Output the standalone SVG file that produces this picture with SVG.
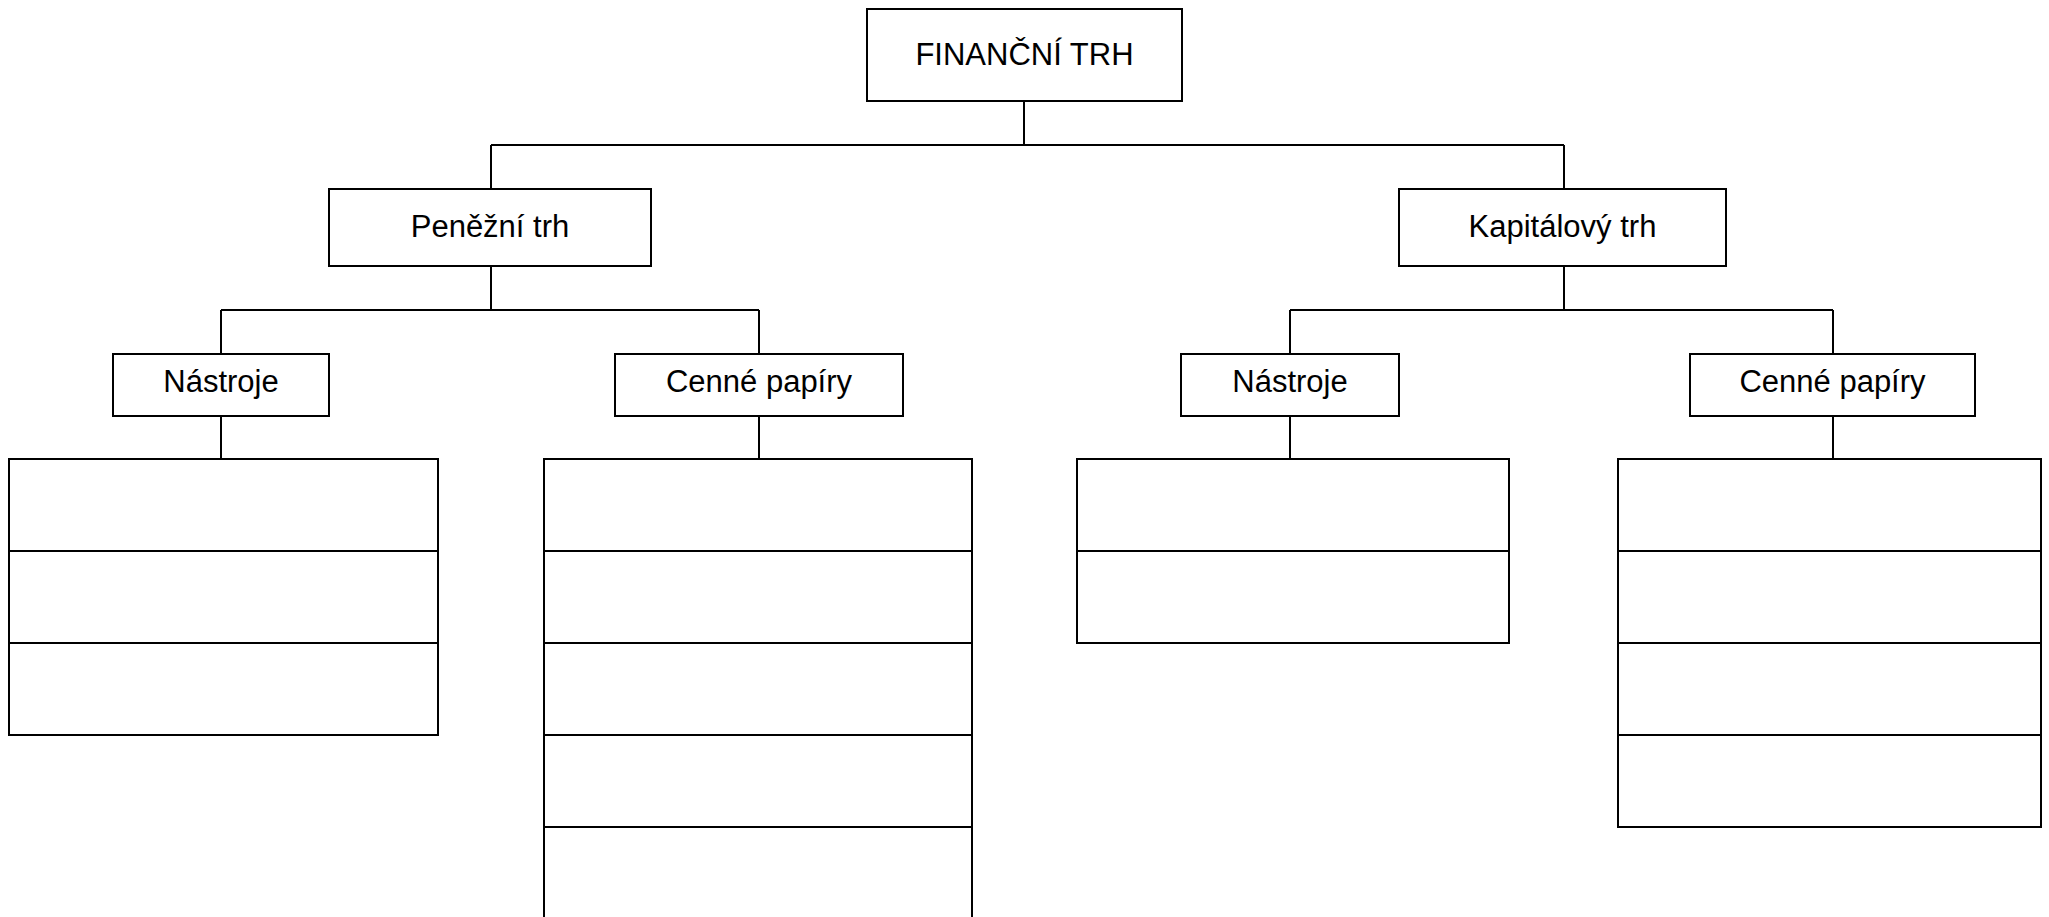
<svg xmlns="http://www.w3.org/2000/svg" width="2049" height="917" viewBox="0 0 2049 917">
<style>
  .box { fill: #ffffff; stroke: #000000; stroke-width: 2; }
  .row { stroke: #000000; stroke-width: 2; fill: none; }
  .conn { stroke: #000000; stroke-width: 2; fill: none; }
  .lbl { font-family: "Liberation Sans", Arial, sans-serif; font-size: 31px; fill: #000000; text-anchor: middle; }
</style>
<rect x="0" y="0" width="2049" height="917" fill="#ffffff"/>
<g id="connectors">
  <path class="conn" d="M1024,101 V145 M491,145 H1564 M491,145 V189 M1564,145 V189"/>
  <path class="conn" d="M491,266 V310 M221,310 H759 M221,310 V354 M759,310 V354"/>
  <path class="conn" d="M1564,266 V310 M1290,310 H1833 M1290,310 V354 M1833,310 V354"/>
  <path class="conn" d="M221,416 V459 M759,416 V459 M1290,416 V459 M1833,416 V459"/>
</g>
<g id="root">
  <rect class="box" x="867" y="9" width="315" height="92"/>
  <text class="lbl" x="1024.5" y="65">FINANČNÍ TRH</text>
</g>
<g id="penezni-trh">
  <rect class="box" x="329" y="189" width="322" height="77"/>
  <text class="lbl" x="490" y="237">Peněžní trh</text>
</g>
<g id="kapitalovy-trh">
  <rect class="box" x="1399" y="189" width="327" height="77"/>
  <text class="lbl" x="1562.5" y="237">Kapitálový trh</text>
</g>
<g id="penezni-nastroje">
  <rect class="box" x="113" y="354" width="216" height="62"/>
  <text class="lbl" x="221" y="392">Nástroje</text>
</g>
<g id="penezni-cenne-papiry">
  <rect class="box" x="615" y="354" width="288" height="62"/>
  <text class="lbl" x="759" y="392">Cenné papíry</text>
</g>
<g id="kapitalovy-nastroje">
  <rect class="box" x="1181" y="354" width="218" height="62"/>
  <text class="lbl" x="1290" y="392">Nástroje</text>
</g>
<g id="kapitalovy-cenne-papiry">
  <rect class="box" x="1690" y="354" width="285" height="62"/>
  <text class="lbl" x="1832.5" y="392">Cenné papíry</text>
</g>
<g id="penezni-nastroje-list">
  <rect class="box" x="9" y="459" width="429" height="276"/>
  <path class="row" d="M9,551 H438 M9,643 H438"/>
</g>
<g id="penezni-cenne-papiry-list">
  <rect class="box" x="544" y="459" width="428" height="460"/>
  <path class="row" d="M544,551 H972 M544,643 H972 M544,735 H972 M544,827 H972"/>
</g>
<g id="kapitalovy-nastroje-list">
  <rect class="box" x="1077" y="459" width="432" height="184"/>
  <path class="row" d="M1077,551 H1509"/>
</g>
<g id="kapitalovy-cenne-papiry-list">
  <rect class="box" x="1618" y="459" width="423" height="368"/>
  <path class="row" d="M1618,551 H2041 M1618,643 H2041 M1618,735 H2041"/>
</g>
</svg>
